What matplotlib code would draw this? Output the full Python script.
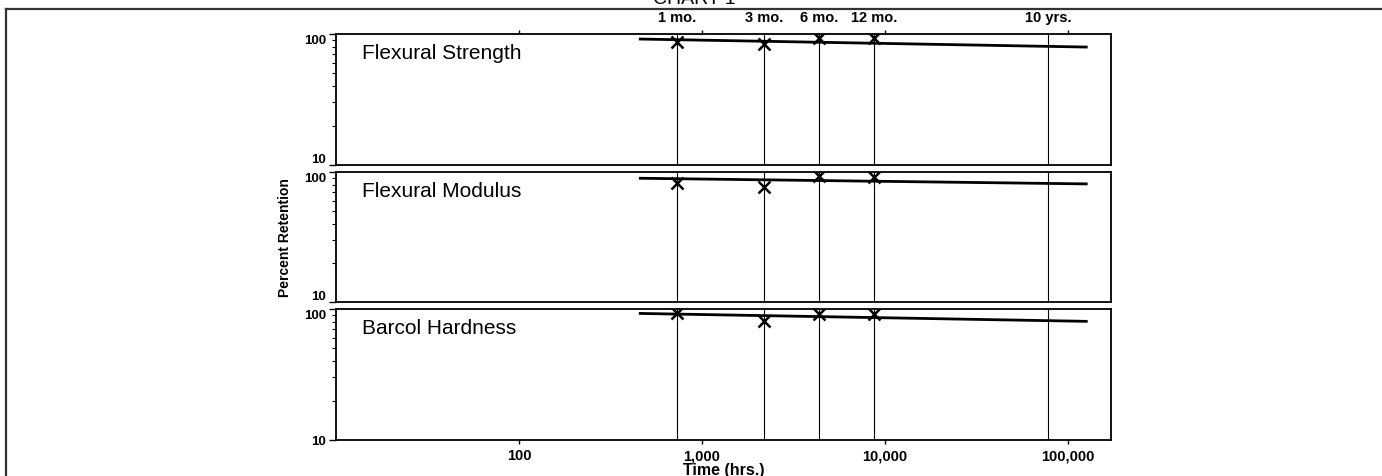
import matplotlib
matplotlib.use('Agg')
import matplotlib.pyplot as plt
from matplotlib.ticker import FixedLocator, NullLocator, NullFormatter, FixedFormatter
from matplotlib.lines import Line2D

plt.rcParams['font.family'] = ['Liberation Sans', 'DejaVu Sans']

# test points (hours) and retention values
hours        = [730, 2190, 4380, 8760]
strength     = [86.5, 84, 94, 93]
modulus      = [82, 77, 92.5, 91]
hardness     = [92.5, 81, 92, 91]

# fitted trend lines (start / end)
fit_hours    = [460, 126000]
strength_fit = [91.5, 79.5]
modulus_fit  = [89.5, 81]
hardness_fit = [92.5, 80.5]

panel_names  = ['Flexural Strength', 'Flexural Modulus', 'Barcol Hardness']
ref_hours    = [730, 2190, 4380, 8760, 78000]
ref_labels   = ['1 mo.', '3 mo.', '6 mo.', '12 mo.', '10 yrs.']
x_ticks      = [100, 1000, 10000, 100000]
x_labels     = ['100', '1,000', '10,000', '100,000']

points = [strength, modulus, hardness]
fits   = [strength_fit, modulus_fit, hardness_fit]

W, H = 1382, 477
fig = plt.figure(figsize=(W / 100, H / 100), dpi=100)

# panel boxes in pixels: (top, bottom)
left_px, right_px = 336, 1111
rows_px = [(35, 166), (173, 303), (310, 441)]

axes = []
for i, (top, bot) in enumerate(rows_px):
    ax = fig.add_axes([left_px / W, 1 - bot / H, (right_px - left_px) / W, (bot - top) / H])
    ax.set_xscale('log')
    ax.set_yscale('log')
    ax.set_xlim(10, 172000)
    ax.set_ylim(10, 100)

    for xv in ref_hours:
        ax.axvline(xv, color='black', lw=0.8, zorder=1)

    ax.plot(fit_hours, fits[i], color='black', lw=2.0, zorder=2)
    ax.plot(hours, points[i], linestyle='none', marker='x', color='black',
            markersize=9, markeredgewidth=1.8, zorder=3)

    ax.text(0.034, 0.86, panel_names[i], transform=ax.transAxes,
            fontsize=15, va='center', ha='left')

    for s in ax.spines.values():
        s.set_linewidth(1.3)

    ax.yaxis.set_major_locator(FixedLocator([10, 100]))
    ax.yaxis.set_major_formatter(FixedFormatter(['10', '100']))
    ax.yaxis.set_minor_locator(FixedLocator([20, 30, 40, 50, 60, 70, 80, 90]))
    ax.yaxis.set_minor_formatter(NullFormatter())
    ax.tick_params(axis='y', which='major', length=5, width=1.0, labelsize=9.5, pad=2)
    ax.tick_params(axis='y', which='minor', length=3, width=0.8)
    labs = ax.get_yticklabels()
    for lab in labs:
        lab.set_fontweight('bold')
    # stacked labels where panels meet
    labs[1].set_va('top')
    if i < 2:
        labs[0].set_va('bottom')

    ax.xaxis.set_major_locator(FixedLocator(x_ticks))
    ax.xaxis.set_minor_locator(NullLocator())
    axes.append(ax)

# top panel: ticks on top, no labels
axes[0].xaxis.set_ticks_position('top')
axes[0].tick_params(axis='x', which='major', length=3, width=1.0, labeltop=False)
axes[1].tick_params(axis='x', which='major', length=0, labelbottom=False)

axes[2].xaxis.set_major_formatter(FixedFormatter(x_labels))
axes[2].tick_params(axis='x', which='major', length=3, width=1.0, labelsize=10.5, pad=3)
for lab in axes[2].get_xticklabels():
    lab.set_fontweight('bold')
axes[2].set_xlabel('Time (hrs.)', fontsize=11.5, fontweight='bold', labelpad=0)

# labels of the reference lines above the top panel
for xv, lab in zip(ref_hours, ref_labels):
    axes[0].annotate(lab, xy=(xv, 100), xycoords='data', xytext=(0, 12),
                     textcoords='offset points', ha='center', va='center',
                     fontsize=10.5, fontweight='bold', annotation_clip=False)

fig.text(285 / W, 1 - 238 / H, 'Percent Retention', rotation=90, fontsize=10,
         fontweight='bold', ha='center', va='center')

fig.text(694 / W, 1 - 4 / H, 'CHART 1', fontsize=14, ha='center', va='baseline')

# outer frame
fig.add_artist(Line2D([6 / W, 1.0], [1 - 10 / H, 1 - 10 / H], transform=fig.transFigure,
                      color='#333333', lw=1.6))
fig.add_artist(Line2D([6 / W, 6 / W], [1 - 10 / H, 0.0], transform=fig.transFigure,
                      color='#333333', lw=1.6))

fig.savefig('out.png', dpi=100)
